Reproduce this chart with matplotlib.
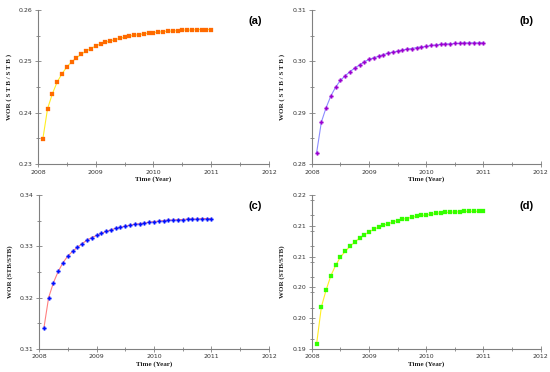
import numpy as np
import matplotlib
matplotlib.use('Agg')
import matplotlib.pyplot as plt
from matplotlib.ticker import MultipleLocator

# monthly time steps, end of each month from Jan 2008 to Dec 2010
months = np.arange(1, 37)
time_years = 2008 + months / 12.0

wor_a = [0.2348, 0.2408, 0.2437, 0.2460, 0.2476, 0.2489, 0.2499, 0.2507, 0.2514,
         0.2520, 0.2525, 0.2530, 0.2534, 0.2537, 0.2540, 0.2542, 0.2545, 0.2547,
         0.2549, 0.2551, 0.2552, 0.2554, 0.2555, 0.2556, 0.2557, 0.2558, 0.2559,
         0.2559, 0.2560, 0.2561, 0.2561, 0.2561, 0.2562, 0.2562, 0.2562, 0.2562]
wor_b = [0.2822, 0.2882, 0.2910, 0.2933, 0.2950, 0.2963, 0.2972, 0.2980, 0.2987,
         0.2993, 0.2999, 0.3004, 0.3007, 0.3010, 0.3013, 0.3016, 0.3018, 0.3020,
         0.3022, 0.3024, 0.3025, 0.3027, 0.3028, 0.3029, 0.3031, 0.3032, 0.3033,
         0.3034, 0.3034, 0.3035, 0.3035, 0.3036, 0.3036, 0.3036, 0.3036, 0.3036]
wor_c = [0.3140, 0.3200, 0.3229, 0.3251, 0.3268, 0.3281, 0.3290, 0.3298, 0.3305,
         0.3312, 0.3317, 0.3321, 0.3325, 0.3329, 0.3332, 0.3335, 0.3337, 0.3339,
         0.3341, 0.3343, 0.3344, 0.3345, 0.3347, 0.3348, 0.3349, 0.3350, 0.3351,
         0.3351, 0.3352, 0.3352, 0.3353, 0.3353, 0.3353, 0.3354, 0.3354, 0.3354]
wor_d = [0.1910, 0.1982, 0.2015, 0.2043, 0.2063, 0.2079, 0.2090, 0.2100, 0.2108,
         0.2116, 0.2122, 0.2128, 0.2133, 0.2137, 0.2141, 0.2144, 0.2147, 0.2150,
         0.2153, 0.2154, 0.2157, 0.2158, 0.2160, 0.2161, 0.2162, 0.2164, 0.2165,
         0.2166, 0.2166, 0.2167, 0.2167, 0.2168, 0.2168, 0.2168, 0.2168, 0.2168]

y_ticks_a = [0.23, 0.24, 0.25, 0.26]
y_ticks_b = [0.28, 0.29, 0.30, 0.31]
y_ticks_c = [0.31, 0.32, 0.33, 0.34]
y_ticks_d = [0.190, 0.196, 0.202, 0.208, 0.214, 0.220]
y_labels_d = ['0.19', '0.20', '0.20', '0.21', '0.21', '0.22']
x_ticks = [2008, 2009, 2010, 2011, 2012]

fig = plt.figure(figsize=(5.5, 3.72), dpi=100)

panels = [
    # rect, values, yticks, ylabels, ylabel, line colour, marker colour, marker, tag
    ([0.069, 0.559, 0.420, 0.414], wor_a, y_ticks_a, None, 'WOR ( S T B / S T B )',
     '#ffee22', '#ff6a00', 's', '(a)'),
    ([0.567, 0.559, 0.416, 0.414], wor_b, y_ticks_b, None, 'WOR ( S T B / S T B )',
     '#8c8cff', '#9b00d0', 'P', '(b)'),
    ([0.071, 0.062, 0.418, 0.414], wor_c, y_ticks_c, None, 'WOR (STB/STB)',
     '#ff8080', '#0010ff', 'P', '(c)'),
    ([0.567, 0.062, 0.416, 0.414], wor_d, y_ticks_d, y_labels_d, 'WOR (STB/STB)',
     '#ffee22', '#33ff00', 's', '(d)'),
]

for rect, vals, yt, ylab, ytitle, lc, mc, mk, tag in panels:
    ax = fig.add_axes(rect)
    ax.plot(time_years, vals, color=lc, linewidth=0.8, zorder=2)
    ax.plot(time_years, vals, linestyle='none', marker=mk,
            markersize=2.8 if mk == 'P' else 2.4,
            markerfacecolor=mc, markeredgecolor=mc, markeredgewidth=0.2, zorder=3)
    ax.set_xlim(2008, 2012)
    ax.set_ylim(yt[0], yt[-1])
    ax.set_xticks(x_ticks)
    ax.xaxis.set_minor_locator(MultipleLocator(0.5))
    ax.set_yticks(yt)
    if ylab is not None:
        ax.set_yticklabels(ylab)
    else:
        ax.set_yticklabels(['%.2f' % v for v in yt])
    step = yt[1] - yt[0]
    ax.yaxis.set_minor_locator(MultipleLocator(step / 2))
    for side in ('top', 'right'):
        ax.spines[side].set_visible(False)
    for side in ('left', 'bottom'):
        ax.spines[side].set_color('#808080')
        ax.spines[side].set_linewidth(0.8)
    ax.tick_params(which='major', direction='inout', length=4, width=0.6,
                   colors='#808080', labelsize=4.5, labelcolor='#333333', pad=2)
    ax.tick_params(which='minor', direction='inout', length=2.5, width=0.6,
                   colors='#808080')
    ax.set_xlabel('Time (Year)', family='Liberation Serif', fontweight='bold',
                  fontsize=5, labelpad=1, color='#222222')
    ax.set_ylabel(ytitle, family='Liberation Serif', fontweight='bold',
                  fontsize=5, labelpad=5, color='#222222')
    ax.text(0.97, 0.93, tag, transform=ax.transAxes, ha='right', va='center',
            fontsize=8, fontweight='bold', family='Liberation Sans')

fig.savefig('out.png', dpi=100)
